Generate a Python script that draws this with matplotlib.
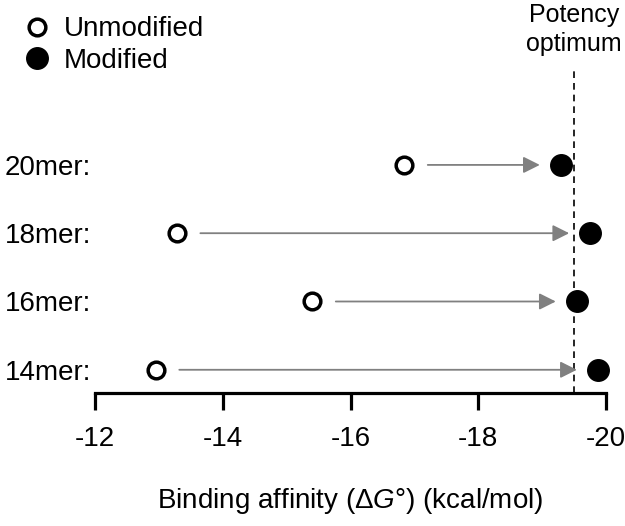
import matplotlib
matplotlib.use("Agg")
import matplotlib.pyplot as plt
import matplotlib.transforms as mtransforms
from matplotlib.lines import Line2D

plt.rcParams["font.family"] = ["Liberation Sans", "DejaVu Sans"]
plt.rcParams["mathtext.fontset"] = "custom"
plt.rcParams["mathtext.rm"] = "Liberation Sans"
plt.rcParams["mathtext.it"] = "Liberation Sans:italic"

# --- data ---
categories = ["14mer:", "16mer:", "18mer:", "20mer:"]
unmodified = [-12.95, -15.40, -13.28, -16.84]
modified = [-19.87, -19.54, -19.75, -19.29]
potency_optimum = -19.5
x_ticks = [-12, -14, -16, -18, -20]

FS = 20

fig = plt.figure(figsize=(6.25, 5.26), dpi=100)
ax = fig.add_axes([95 / 625, 1 - 393 / 526, (606 - 95) / 625, (393 - 70) / 526])

ypos = list(range(len(categories)))

# arrows from unmodified to modified
for y, u, m in zip(ypos, unmodified, modified):
    ax.annotate(
        "",
        xy=(m, y),
        xytext=(u, y),
        arrowprops=dict(
            arrowstyle="-|>,head_length=0.5,head_width=0.25",
            mutation_scale=20,
            color="#808080",
            lw=1.3,
            shrinkA=17,
            shrinkB=15,
        ),
    )

ax.plot(unmodified, ypos, "o", ms=12, mfc="white", mec="black", mew=2.5,
        ls="none", zorder=3, clip_on=False)
ax.plot(modified, ypos, "o", ms=15.5, mfc="black", mec="black",
        ls="none", zorder=3, clip_on=False)

ax.axvline(potency_optimum, color="black", lw=1.2, ls=(0, (4, 3)), zorder=1)

ax.set_xlim(-12, -20)
ax.set_ylim(-0.34, 4.39)
ax.set_xticks(x_ticks)
ax.set_xticklabels([str(t) for t in x_ticks], fontsize=FS)
ax.set_yticks(ypos)
ax.set_yticklabels(categories, fontsize=FS)

for s in ["top", "right", "left"]:
    ax.spines[s].set_visible(False)
ax.spines["bottom"].set_linewidth(2.3)
ax.tick_params(axis="x", length=12, width=2.3, pad=12, direction="out")
ax.tick_params(axis="y", length=0, pad=3)

ax.set_xlabel(r"Binding affinity ($\mathrm{\Delta}\mathit{G}$°) (kcal/mol)",
              fontsize=FS, labelpad=24)

# label above the dashed line, kept inside the right edge
trans = mtransforms.blended_transform_factory(ax.transData, fig.transFigure)
ax.text(potency_optimum, 1 - 3 / 526, "Potency\noptimum", transform=trans,
        ha="center", va="top", fontsize=18, linespacing=1.25)

handles = [
    Line2D([], [], marker="o", ls="none", ms=12, mfc="white", mec="black", mew=2.5),
    Line2D([], [], marker="o", ls="none", ms=15.5, mfc="black", mec="black"),
]
fig.legend(handles, ["Unmodified", "Modified"], loc="upper left",
           bbox_to_anchor=(0.015, 0.99), frameon=False, fontsize=FS,
           handletextpad=0.35, handlelength=1.2, labelspacing=0.2,
           borderaxespad=0)

fig.savefig("out.png", dpi=100)
